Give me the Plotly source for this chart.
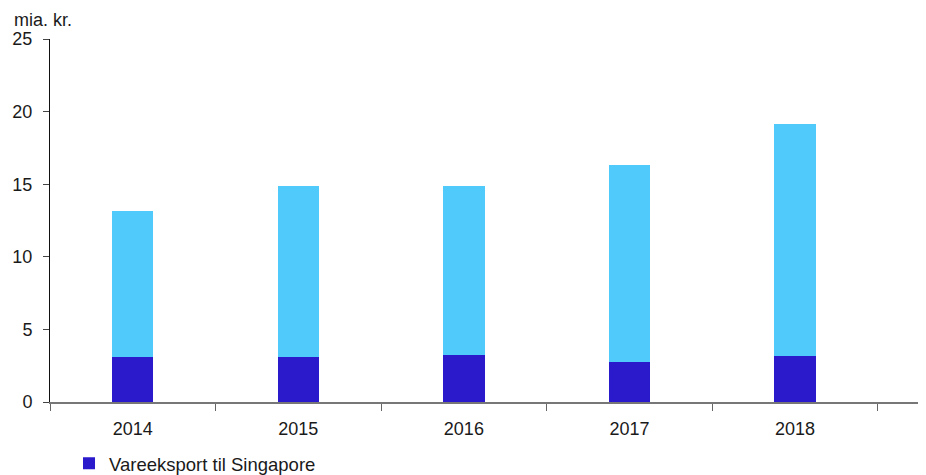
import plotly.graph_objects as go

years = ["2014", "2015", "2016", "2017", "2018"]
vareeksport = [3.12, 3.10, 3.24, 2.75, 3.17]
tjenesteeksport = [10.06, 11.80, 11.64, 13.57, 15.98]
y_ticks = [0, 5, 10, 15, 20, 25]

FONT = "Liberation Sans, Arial, sans-serif"
TXT = "#1a1a1a"

fig = go.Figure()
fig.add_trace(go.Bar(x=years, y=vareeksport, name="Vareeksport til Singapore",
                     marker=dict(color="#2A1ACC", line=dict(width=0)), width=0.25))
fig.add_trace(go.Bar(x=years, y=tjenesteeksport, name="Tjenesteeksport til Singapore",
                     marker=dict(color="#50CAFA", line=dict(width=0)), width=0.25,
                     showlegend=False))

fig.update_layout(
    barmode="stack",
    width=926, height=467,
    margin=dict(l=42, r=0, t=31, b=73, autoexpand=False),
    plot_bgcolor="white", paper_bgcolor="white",
    font=dict(family=FONT, size=18, color=TXT),
    showlegend=True,
    legend=dict(orientation="h", x=0.0215, xanchor="left", y=-0.118, yanchor="top",
                font=dict(size=18.5, color=TXT), itemclick=False),
    xaxis=dict(type="category", range=[-0.5, 4.84], tickson="boundaries",
               ticks="outside", ticklen=7, tickcolor="#666666", tickwidth=1,
               showline=True, linecolor="#777777", linewidth=2,
               showgrid=False, zeroline=False, fixedrange=True, automargin=False,
               ticklabelstandoff=9, tickfont=dict(size=18, color=TXT)),
    yaxis=dict(range=[0, 25], tickvals=y_ticks, ticks="outside", ticklen=6,
               tickcolor="#444444", showline=True, linecolor="#111111", linewidth=1,
               showgrid=False, zeroline=False, automargin=False,
               ticklabelstandoff=7, tickfont=dict(size=18, color=TXT)),
)
fig.add_annotation(text="mia. kr.", xref="paper", yref="paper", x=-0.043, y=1.052,
                   xanchor="left", yanchor="middle", showarrow=False,
                   font=dict(size=18, color=TXT))

fig.write_html("out.html")
